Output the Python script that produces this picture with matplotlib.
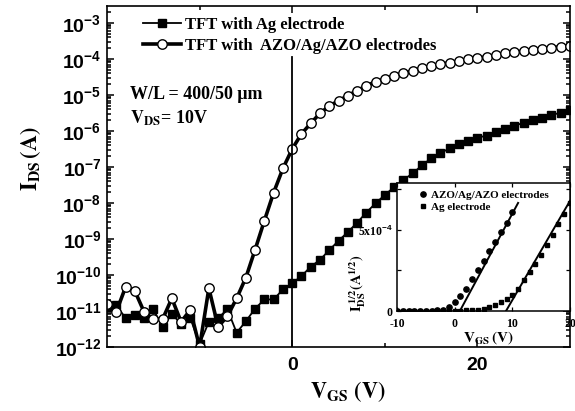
import math
import matplotlib
matplotlib.use("Agg")
import matplotlib.pyplot as plt
from matplotlib.ticker import LogLocator, FuncFormatter, NullFormatter, FixedLocator

plt.rcParams['mathtext.fontset'] = 'custom'
plt.rcParams['mathtext.rm'] = 'Liberation Sans:bold'
plt.rcParams['mathtext.it'] = 'Liberation Sans:bold'
plt.rcParams['mathtext.bf'] = 'Liberation Sans:bold'

# ---------------- data ----------------
vgs = list(range(-20, 31))
i_ag = [1.26e-11, 1.48e-11, 6.3e-12, 7.8e-12, 6.3e-12, 1.12e-11, 3.55e-12, 8.3e-12, 4.4e-12, 6.3e-12,
        1.2e-12, 5.0e-12, 6.3e-12, 1.12e-11, 2.5e-12, 5.2e-12, 1.17e-11, 2.09e-11, 2.09e-11, 3.98e-11,
        5.9e-11, 9.3e-11, 1.7e-10, 2.63e-10, 4.9e-10, 8.9e-10, 1.55e-9, 2.82e-9, 5.4e-9, 9.8e-9,
        1.66e-8, 2.75e-8, 4.37e-8, 6.6e-8, 1.1e-7, 1.74e-7, 2.4e-7, 3.31e-7, 4.37e-7, 5.4e-7,
        6.5e-7, 7.4e-7, 9.5e-7, 1.15e-6, 1.38e-6, 1.7e-6, 2.04e-6, 2.34e-6, 2.75e-6, 3.24e-6, 3.8e-6]
i_azo = [1.58e-11, 9.5e-12, 4.57e-11, 3.63e-11, 9.5e-12, 5.9e-12, 5.9e-12, 2.24e-11, 5.0e-12, 1.07e-11,
         1.0e-12, 4.27e-11, 3.63e-12, 7.2e-12, 2.24e-11, 8.5e-11, 5.1e-10, 3.24e-9, 1.95e-8, 9.1e-8,
         3.16e-7, 8.3e-7, 1.62e-6, 3.09e-6, 4.9e-6, 6.9e-6, 9.5e-6, 1.32e-5, 1.78e-5, 2.34e-5,
         2.75e-5, 3.39e-5, 3.98e-5, 4.68e-5, 5.5e-5, 6.46e-5, 7.08e-5, 7.94e-5, 8.71e-5, 9.77e-5,
         1.05e-4, 1.15e-4, 1.29e-4, 1.45e-4, 1.55e-4, 1.66e-4, 1.78e-4, 1.91e-4, 2.04e-4, 2.19e-4, 2.34e-4]

# inset: sqrt(I_DS)
inset_v_azo = list(range(-10, 11))
inset_azo = [0.0, 0.0, 0.01e-4, 0.01e-4, 0.01e-4, 0.02e-4, 0.02e-4, 0.04e-4, 0.09e-4, 0.26e-4,
             0.57e-4, 0.91e-4, 1.38e-4, 1.99e-4, 2.54e-4, 3.07e-4, 3.72e-4, 4.23e-4, 4.90e-4, 5.45e-4, 6.12e-4]
inset_v_ag = list(range(-10, 21))
inset_ag = [0.0, 0.0, 0.0, 0.0, 0.01e-4, 0.01e-4, 0.01e-4, 0.01e-4, 0.02e-4, 0.02e-4,
            0.02e-4, 0.03e-4, 0.04e-4, 0.05e-4, 0.08e-4, 0.13e-4, 0.22e-4, 0.36e-4, 0.55e-4, 0.72e-4,
            0.98e-4, 1.38e-4, 1.89e-4, 2.4e-4, 2.9e-4, 3.48e-4, 4.07e-4, 4.7e-4, 5.35e-4, 6.0e-4, 6.67e-4]
fit_azo_v = [0.9, 11.0]
fit_azo = [0.0, 6.67e-4]
fit_ag_v = [8.9, 20.0]
fit_ag = [0.0, 6.8e-4]

# ---------------- figure ----------------
W, H = 575, 411
fig = plt.figure(figsize=(W / 100, H / 100), dpi=100)
ax = fig.add_axes([107 / W, 64 / H, 463 / W, 341 / H])

ax.plot(vgs, i_ag, '-', color='black', lw=1.3, marker='s', ms=6.0, mfc='black', mec='black',
        label='TFT with Ag electrode')
ax.plot(vgs, i_azo, '-', color='black', lw=2.6, marker='o', ms=6.8, mfc='white', mec='black', mew=1.0,
        label='TFT with  AZO/Ag/AZO electrodes')
ax.axvline(0, ymin=0, ymax=0.85, color='black', lw=1.3)

ax.set_yscale('log')
ax.set_xlim(-20, 30)
ax.set_ylim(1e-12, 2.95e-3)

ax.yaxis.set_major_locator(LogLocator(base=10, numticks=20))
ax.yaxis.set_minor_locator(LogLocator(base=10, subs=range(2, 10), numticks=20))
ax.yaxis.set_major_formatter(FuncFormatter(lambda v, p: r'$10^{%d}$' % round(math.log10(v))))
ax.yaxis.set_minor_formatter(NullFormatter())
ax.xaxis.set_major_locator(FixedLocator([0, 20]))
ax.xaxis.set_minor_locator(FixedLocator([-10, 10]))

ax.tick_params(which='both', direction='in', top=True, right=True, width=1.1)
ax.tick_params(which='major', length=5)
ax.tick_params(which='minor', length=3)
ax.tick_params(axis='y', which='major', labelsize=14, pad=4)
ax.tick_params(axis='x', which='major', labelsize=14, pad=7)
for lab in ax.get_xticklabels():
    lab.set_fontfamily('Liberation Sans')
    lab.set_fontweight('bold')
for s in ax.spines.values():
    s.set_linewidth(1.2)

fig.text(348 / W, 13 / H, r'$\mathbf{V_{GS}\ (V)}$', math_fontfamily='stix', fontsize=16,
         ha='center', va='baseline')
fig.text(31 / W, 1 - 159 / H, r'$\mathbf{I_{DS}\,(A)}$', math_fontfamily='stix', fontsize=16,
         ha='center', va='center', rotation=90)

ax.text(23 / 463, (347 - 99) / 341, 'W/L = 400/50 μm', transform=ax.transAxes,
        fontfamily='Liberation Serif', fontweight='bold', fontsize=13, va='baseline')
ax.text(23 / 463, (347 - 123) / 341, r'$\mathbf{V_{DS}}$= 10V', transform=ax.transAxes,
        fontfamily='Liberation Serif', fontweight='bold', fontsize=13, va='baseline',
        math_fontfamily='stix')

leg = ax.legend(loc='upper left', bbox_to_anchor=(0.078, 0.967), frameon=False, borderpad=0,
                borderaxespad=0, handlelength=2.3, handletextpad=0.2, labelspacing=0.28,
                prop={'family': 'Liberation Serif', 'weight': 'bold', 'size': 12})

# ---------------- inset ----------------
ins = fig.add_axes([397 / W, 100 / H, 173 / W, 128 / H])
ins.set_facecolor('white')
ins.plot(inset_v_azo, inset_azo, 'o', color='black', ms=3.8, label='AZO/Ag/AZO electrodes')
ins.plot(inset_v_ag, inset_ag, 's', color='black', ms=3.4, label='Ag electrode')
ins.plot(fit_azo_v, fit_azo, '-', color='black', lw=1.4)
ins.plot(fit_ag_v, fit_ag, '-', color='black', lw=1.4)
ins.set_xlim(-10, 20)
ins.set_ylim(0, 7.9e-4)
ins.set_xticks([-10, 0, 10, 20])
ins.set_xticklabels(['-10', '0', '10', '20'])
ins.set_yticks([0, 2.5e-4, 5e-4, 7.5e-4])
ins.set_yticklabels(['0', '', r'5x10$^{\mathbf{-4}}$', ''])
ins.tick_params(which='both', direction='in', top=True, right=True, length=3, width=0.9,
                labelsize=8.5)
ins.tick_params(axis='x', pad=5)
ins.tick_params(axis='y', pad=3)
for lab in ins.get_xticklabels() + ins.get_yticklabels():
    lab.set_fontfamily('Liberation Serif')
    lab.set_fontweight('bold')
for s in ins.spines.values():
    s.set_linewidth(1.1)
ins.text(0.526, -0.21, r'$\mathbf{V_{GS}\,(V)}$', transform=ins.transAxes, math_fontfamily='stix',
         fontsize=11, ha='center', va='center')
ins.text(-0.225, -0.01, r'$\mathbf{I_{DS}^{\ 1/2}(A^{1/2})}$', transform=ins.transAxes,
         math_fontfamily='stix', fontsize=10.5, ha='center', va='bottom', rotation=90)
ins.legend(loc='upper left', bbox_to_anchor=(0.124, 0.945), frameon=False, borderpad=0,
           borderaxespad=0, handlelength=0.8, handletextpad=0.3, labelspacing=0.25,
           prop={'family': 'Liberation Serif', 'weight': 'bold', 'size': 8})

fig.savefig('out.png', dpi=100)
